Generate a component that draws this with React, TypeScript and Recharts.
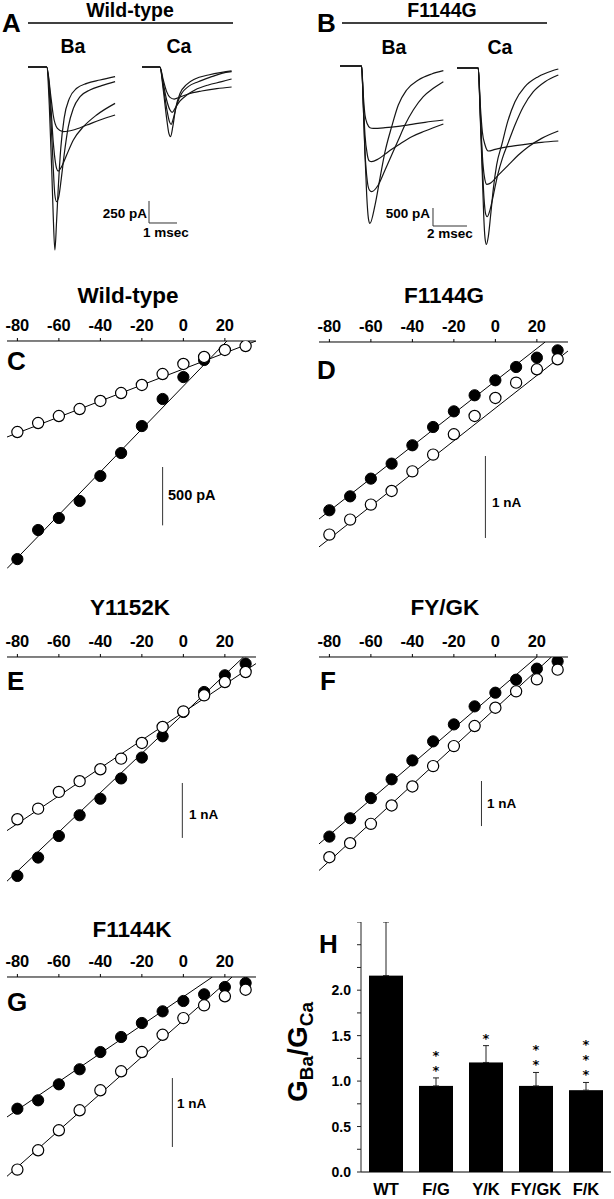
import React from 'react';
import {
  ComposedChart,
  LineChart,
  Line,
  Scatter,
  XAxis,
  YAxis,
  ReferenceLine,
  Bar,
  ErrorBar,
} from 'recharts';

const FONT = '"Liberation Sans", Arial, Helvetica, sans-serif';

// ---------------- Panel A / B : current traces [time ms, current pA] ----------------
const wtBaT1 = [[0, 0], [0.67, 0], [0.81, -318], [0.9, -545], [1.05, -697], [1.26, -735], [1.62, -716], [2.1, -659], [2.57, -602], [3.11, -545]];
const wtBaT2 = [[0, 0], [0.67, 0], [0.79, -318], [0.9, -848], [1.02, -1151], [1.08, -1182], [1.2, -1132], [1.38, -1000], [1.62, -829], [1.98, -678], [2.45, -545], [3.11, -413]];
const wtBaT3 = [[0, 0], [0.67, 0], [0.79, -432], [0.88, -1000], [0.96, -1454], [1.02, -1530], [1.1, -1473], [1.19, -1265], [1.29, -1000], [1.44, -678], [1.62, -470], [1.86, -337], [2.21, -261], [2.63, -212], [3.11, -167]];
const wtBaT4 = [[0, 0], [0.67, 0], [0.76, -432], [0.85, -1189], [0.9, -1681], [0.96, -2079], [1.02, -1757], [1.08, -1378], [1.17, -924], [1.29, -583], [1.48, -356], [1.74, -242], [2.1, -186], [2.57, -148], [3.11, -110]];

const wtCaT1 = [[0, 0], [0.64, 0], [0.76, -148], [0.88, -280], [1.0, -345], [1.15, -364], [1.36, -341], [1.65, -307], [2.13, -273], [2.67, -246], [3.2, -227]];
const wtCaT2 = [[0, 0], [0.64, 0], [0.76, -186], [0.88, -375], [1.0, -489], [1.08, -515], [1.18, -470], [1.36, -386], [1.6, -318], [1.89, -261], [2.37, -204], [2.85, -167], [3.2, -136]];
const wtCaT3 = [[0, 0], [0.64, 0], [0.76, -223], [0.88, -470], [0.98, -621], [1.04, -651], [1.12, -583], [1.24, -432], [1.42, -299], [1.65, -223], [2.01, -167], [2.49, -110], [2.85, -72], [3.2, -53]];
const wtCaT4 = [[0, 0], [0.64, 0], [0.76, -261], [0.88, -583], [0.96, -754], [1.02, -791], [1.1, -678], [1.2, -470], [1.36, -299], [1.6, -197], [1.89, -136], [2.37, -91], [2.85, -61], [3.2, -45]];

const fgBaT1 = [[0, 0], [1.27, 0], [1.37, -806], [1.47, -1363], [1.61, -1613], [1.76, -1715], [1.96, -1733], [2.65, -1715], [3.43, -1678], [4.22, -1622], [5.0, -1567], [6.08, -1502]];
const fgBaT2 = [[0, 0], [1.27, 0], [1.37, -992], [1.47, -1919], [1.61, -2475], [1.73, -2642], [1.86, -2660], [2.25, -2586], [2.84, -2382], [3.43, -2197], [4.22, -1965], [5.0, -1808], [6.08, -1613]];
const fgBaT3 = [[0, 0], [1.27, 0], [1.37, -1085], [1.47, -2382], [1.61, -3217], [1.73, -3448], [1.86, -3495], [2.25, -3309], [2.65, -2892], [3.04, -2475], [3.43, -2058], [3.82, -1641], [4.31, -1224], [4.9, -853], [5.49, -621], [6.08, -436]];
const fgBaT4 = [[0, 0], [1.27, 0], [1.37, -1085], [1.47, -2475], [1.57, -3587], [1.67, -4236], [1.76, -4375], [2.06, -3866], [2.35, -3124], [2.65, -2382], [3.04, -1687], [3.43, -1085], [3.92, -667], [4.61, -389], [5.39, -222], [6.08, -130]];

const fgCaT1 = [[0, 0], [1.25, 0], [1.37, -1029], [1.49, -1771], [1.65, -2141], [1.84, -2308], [2.24, -2262], [3.02, -2188], [4.0, -2123], [4.98, -2067], [5.96, -2030]];
const fgCaT2 = [[0, 0], [1.25, 0], [1.37, -1214], [1.49, -2419], [1.61, -3022], [1.75, -3235], [1.94, -3207], [2.43, -2976], [3.02, -2698], [3.61, -2419], [4.2, -2188], [4.98, -1956], [5.96, -1752]];
const fgCaT3 = [[0, 0], [1.25, 0], [1.37, -1307], [1.49, -2698], [1.59, -3625], [1.69, -4070], [1.78, -4134], [1.94, -3949], [2.14, -3532], [2.39, -2976], [2.67, -2512], [3.02, -2067], [3.41, -1585], [3.9, -1075], [4.49, -658], [5.18, -380], [5.96, -195]];
const fgCaT4 = [[0, 0], [1.25, 0], [1.37, -1400], [1.49, -2976], [1.57, -4088], [1.65, -4737], [1.73, -4904], [1.84, -4691], [1.98, -4088], [2.14, -3347], [2.33, -2698], [2.63, -2141], [2.98, -1492], [3.41, -936], [4.0, -519], [4.78, -241], [5.57, -83], [5.96, -28]];

// scale bars: anchor time, anchor current, size in ms, size in pA
const scaleA = { t: 0.25, i: -1522, dt: 1, di: 250 };
const scaleB = { t: 5.47, i: -3948, dt: 2, di: 500 };

// ---------------- Panels C-G : I-V relations ----------------
const voltages = [-80, -70, -60, -50, -40, -30, -20, -10, 0, 10, 20, 30];
const ivTicks = [-80, -60, -40, -20, 0, 20];

const wtBa = [-1869, -1620, -1517, -1371, -1157, -960, -729, -497, -309, -163];
const wtCa = [-780, -703, -643, -583, -514, -446, -377, -283, -197, -137, -77, -43];
const wtBaFit = [[-85, -1950], [21, 0]];
const wtCaFit = [[-85, -823], [35, 0]];

const fgBa = [-2053, -1883, -1667, -1484, -1260, -1037, -846, -650, -467, -305, -191, -102];
const fgCa = [-2350, -2167, -1984, -1817, -1578, -1374, -1126, -902, -683, -496, -333, -211];
const fgBaFit = [[-85, -2160], [24, 0]];
const fgCaFit = [[-85, -2500], [35, -110]];

const ykBa = [-3985, -3650, -3258, -2880, -2580, -2210, -1830, -1443, -1000, -637, -333, -121];
const ykCa = [-2953, -2760, -2455, -2260, -2043, -1850, -1565, -1274, -990, -698, -455, -273];
const ykBaFit = [[-85, -4080], [29, 0]];
const ykCaFit = [[-85, -3160], [35, -120]];

const fyBa = [-3987, -3580, -3133, -2715, -2296, -1873, -1496, -1096, -793, -504, -259, -96];
const fyCa = [-4444, -4133, -3704, -3296, -2874, -2422, -1978, -1533, -1126, -763, -496, -281];
const fyBaFit = [[-85, -4150], [20, 0]];
const fyCaFit = [[-85, -4740], [27, 0]];

const fkBa = [-1910, -1788, -1556, -1338, -1088, -870, -667, -498, -348, -251, -145, -87];
const fkCa = [-2793, -2513, -2223, -1933, -1643, -1367, -1088, -838, -596, -411, -280, -184];
const fkBaFit = [[-85, -2030], [14, 0]];
const fkCaFit = [[-85, -2890], [23.5, 0]];

// ---------------- Panel H ----------------
const groups = ['WT', 'F/G', 'Y/K', 'FY/GK', 'F/K'];
const ratioMean = [2.16, 0.947, 1.205, 0.947, 0.9];
const ratioErr = [0.59, 0.088, 0.185, 0.148, 0.085];
const stars = ['', '**', '*', '**', '***'];
const hTicks = [0, 0.25, 0.5, 0.75, 1, 1.25, 1.5, 1.75, 2, 2.25, 2.5, 2.75];

// ---------------- helpers ----------------
const toTrace = (arr: number[][]) => arr.map(([t, i]) => ({ t, i }));
const toIV = (vals: number[]) => vals.map((i, k) => ({ v: voltages[k], i }));
const toFit = (arr: number[][]) => arr.map(([v, i]) => ({ v, i }));

const filledDot = (p: any) => (
  <circle cx={p.cx} cy={p.cy} r={5.6} fill="#000" stroke="#000" strokeWidth={1} />
);
const openDot = (p: any) => (
  <circle cx={p.cx} cy={p.cy} r={5.6} fill="#fff" stroke="#000" strokeWidth={1.2} />
);

const ivTick = (p: any) => (
  <text x={p.x} y={p.y} textAnchor="middle" fontFamily={FONT} fontWeight="bold" fontSize={16.5} fill="#000">
    {p.payload.value}
  </text>
);

function TraceChart(props: {
  left: number; top: number; width: number; height: number;
  y0: number; pxPerMs: number; pAperPx: number;
  traces: number[][][]; bar?: { t: number; i: number; dt: number; di: number };
}) {
  const { left, top, width, height, y0, pxPerMs, pAperPx, traces, bar } = props;
  const yTop = (y0 - top) * pAperPx;
  const yBot = (y0 - top - height) * pAperPx;
  return (
    <div style={{ position: 'absolute', left, top }}>
      <LineChart width={width} height={height} margin={{ top: 0, right: 0, bottom: 0, left: 0 }}>
        <XAxis type="number" dataKey="t" domain={[0, width / pxPerMs]} hide allowDataOverflow />
        <YAxis type="number" domain={[yBot, yTop]} hide allowDataOverflow />
        {traces.map((tr, k) => (
          <Line
            key={k}
            data={toTrace(tr)}
            dataKey="i"
            type="monotone"
            stroke="#151515"
            strokeWidth={1.2}
            dot={false}
            activeDot={false}
            isAnimationActive={false}
          />
        ))}
        {bar && (
          <ReferenceLine
            segment={[{ x: bar.t, y: bar.i }, { x: bar.t, y: bar.i - bar.di }]}
            stroke="#333"
            strokeWidth={1}
          />
        )}
        {bar && (
          <ReferenceLine
            segment={[{ x: bar.t, y: bar.i - bar.di }, { x: bar.t + bar.dt, y: bar.i - bar.di }]}
            stroke="#333"
            strokeWidth={1}
          />
        )}
      </LineChart>
    </div>
  );
}

const IV_PAD_L = 16;
const IV_PAD_R = 12;

function IVPanel(props: {
  left: number; axisY: number; pAperPx: number; yMin: number;
  ba: number[]; ca: number[]; baFit: number[][]; caFit: number[][];
  bar: { v: number; i: number; di: number };
}) {
  const { left, axisY, pAperPx, yMin, ba, ca, baFit, caFit, bar } = props;
  const plotH = -yMin / pAperPx;
  const axisH = 30;
  return (
    <div style={{ position: 'absolute', left: left - IV_PAD_L, top: axisY - axisH }}>
      <ComposedChart
        width={249 + IV_PAD_L + IV_PAD_R}
        height={axisH + plotH}
        margin={{ top: 0, right: IV_PAD_R, bottom: 0, left: IV_PAD_L }}
      >
        <XAxis
          type="number"
          dataKey="v"
          orientation="top"
          domain={[-85, 35]}
          ticks={ivTicks}
          interval={0}
          height={axisH}
          allowDataOverflow
          axisLine={{ stroke: '#000', strokeWidth: 1 }}
          tickLine={{ stroke: '#000' }}
          tickSize={3}
          tickMargin={7}
          tick={ivTick}
        />
        <YAxis type="number" dataKey="i" domain={[yMin, 0]} hide allowDataOverflow />
        <ReferenceLine
          segment={[{ x: bar.v, y: bar.i }, { x: bar.v, y: bar.i - bar.di }]}
          stroke="#333"
          strokeWidth={1}
        />
        <Line data={toFit(caFit)} dataKey="i" type="linear" stroke="#000" strokeWidth={1} dot={false} activeDot={false} isAnimationActive={false} />
        <Line data={toFit(baFit)} dataKey="i" type="linear" stroke="#000" strokeWidth={1} dot={false} activeDot={false} isAnimationActive={false} />
        <Scatter data={toIV(ba)} dataKey="i" shape={filledDot} isAnimationActive={false} />
        <Scatter data={toIV(ca)} dataKey="i" shape={openDot} isAnimationActive={false} />
      </ComposedChart>
    </div>
  );
}

const hData = groups.map((g, k) => ({
  g,
  m: ratioMean[k],
  e: [0, ratioErr[k]],
  s: stars[k],
}));

const barShape = (p: any) => {
  const { x, y, width, height, payload } = p;
  const ppu = height / payload.m;
  const errTop = y - payload.e[1] * ppu;
  const n = payload.s.length;
  const cx = x + width / 2;
  return (
    <g>
      <rect x={x} y={y} width={width} height={height} fill="#000" />
      {Array.from({ length: n }).map((_, k) => (
        <text
          key={k}
          x={cx}
          y={errTop - 3 - (n - 1 - k) * 15}
          textAnchor="middle"
          fontFamily='"DejaVu Sans", sans-serif'
          fontWeight="bold"
          fontSize={13}
          fill="#000"
        >
          *
        </text>
      ))}
    </g>
  );
};

const hXTick = (p: any) => (
  <text x={p.x} y={p.y + 15} textAnchor="middle" fontFamily={FONT} fontWeight="bold" fontSize={16.5} fill="#000">
    {p.payload.value}
  </text>
);
const hYTick = (p: any) => {
  const v = p.payload.value;
  const show = Math.abs(v * 2 - Math.round(v * 2)) < 1e-9 && v <= 2;
  if (!show) return <g />;
  return (
    <text x={p.x} y={p.y + 5} textAnchor="end" fontFamily={FONT} fontWeight="bold" fontSize={14} fill="#000">
      {v.toFixed(1)}
    </text>
  );
};

const Txt = (p: { x: number; y: number; size: number; anchor?: string; children: React.ReactNode }) => (
  <text
    x={p.x}
    y={p.y}
    fontSize={p.size}
    textAnchor={(p.anchor || 'start') as any}
    fontFamily={FONT}
    fontWeight="bold"
    fill="#000"
  >
    {p.children}
  </text>
);

export default function App() {
  return (
    <div
      style={{
        position: 'absolute',
        left: 0,
        top: 0,
        width: 614,
        height: 1199,
        background: '#fff',
        overflow: 'hidden',
        fontFamily: FONT,
      }}
    >
      {/* Panel A traces */}
      <TraceChart left={28} top={57} width={90} height={200} y0={67} pxPerMs={28} pAperPx={11.36}
        traces={[wtBaT1, wtBaT2, wtBaT3, wtBaT4]} />
      <TraceChart left={142} top={57} width={100} height={200} y0={67} pxPerMs={28} pAperPx={11.36}
        traces={[wtCaT1, wtCaT2, wtCaT3, wtCaT4]} bar={scaleA} />
      {/* Panel B traces */}
      <TraceChart left={340} top={57} width={130} height={195} y0={66} pxPerMs={17} pAperPx={27.8}
        traces={[fgBaT1, fgBaT2, fgBaT3, fgBaT4]} bar={scaleB} />
      <TraceChart left={457} top={57} width={105} height={195} y0={68} pxPerMs={17} pAperPx={27.8}
        traces={[fgCaT1, fgCaT2, fgCaT3, fgCaT4]} />

      {/* I-V panels */}
      <IVPanel left={7} axisY={341} pAperPx={8.57} yMin={-2000} ba={wtBa} ca={wtCa} baFit={wtBaFit} caFit={wtCaFit}
        bar={{ v: -10, i: -1080, di: 500 }} />
      <IVPanel left={319} axisY={342} pAperPx={12.2} yMin={-2600} ba={fgBa} ca={fgCa} baFit={fgBaFit} caFit={fgCaFit}
        bar={{ v: -4.8, i: -1391, di: 1000 }} />
      <IVPanel left={7} axisY={657} pAperPx={18.2} yMin={-4200} ba={ykBa} ca={ykCa} baFit={ykBaFit} caFit={ykCaFit}
        bar={{ v: -0.5, i: -2293, di: 1000 }} />
      <IVPanel left={319} axisY={657} pAperPx={22.2} yMin={-4900} ba={fyBa} ca={fyCa} baFit={fyBaFit} caFit={fyCaFit}
        bar={{ v: -6.7, i: -2753, di: 1000 }} />
      <IVPanel left={7} axisY={977} pAperPx={14.5} yMin={-3000} ba={fkBa} ca={fkCa} baFit={fkBaFit} caFit={fkCaFit}
        bar={{ v: -5.3, i: -1465, di: 1000 }} />

      {/* Panel H */}
      <div style={{ position: 'absolute', left: 321, top: 922 }}>
        <ComposedChart width={290} height={277} data={hData} margin={{ top: 0, right: 0, bottom: 0, left: 0 }}>
          <XAxis dataKey="g" type="category" height={27} axisLine={{ stroke: '#000' }} tickLine={false} tick={hXTick} interval={0} />
          <YAxis
            type="number"
            domain={[0, 2.75]}
            ticks={hTicks}
            interval={0}
            width={40}
            allowDataOverflow
            axisLine={{ stroke: '#222' }}
            tickLine={{ stroke: '#222' }}
            tickSize={4}
            tickMargin={6}
            tick={hYTick}
          />
          <Bar dataKey="m" barSize={34} fill="#000" shape={barShape} isAnimationActive={false}>
            <ErrorBar dataKey="e" width={3} stroke="#222" strokeWidth={1} direction="y" />
          </Bar>
        </ComposedChart>
      </div>

      {/* Text & decorations */}
      <svg width={614} height={1199} style={{ position: 'absolute', left: 0, top: 0, pointerEvents: 'none' }}>
        <Txt x={2} y={32} size={26}>A</Txt>
        <Txt x={130} y={17} size={19.5} anchor="middle">Wild-type</Txt>
        <line x1={28} y1={23} x2={233} y2={23} stroke="#000" strokeWidth={1.5} />
        <Txt x={73} y={53} size={19.5} anchor="middle">Ba</Txt>
        <Txt x={179} y={53} size={19.5} anchor="middle">Ca</Txt>
        <Txt x={147} y={218} size={13.5} anchor="end">250 pA</Txt>
        <Txt x={166} y={237} size={13.5} anchor="middle">1 msec</Txt>

        <Txt x={317} y={32} size={26}>B</Txt>
        <Txt x={442} y={17} size={19.5} anchor="middle">F1144G</Txt>
        <line x1={342} y1={23} x2={547} y2={23} stroke="#000" strokeWidth={1.5} />
        <Txt x={394} y={54} size={19.5} anchor="middle">Ba</Txt>
        <Txt x={500} y={54} size={19.5} anchor="middle">Ca</Txt>
        <Txt x={430} y={218} size={13.5} anchor="end">500 pA</Txt>
        <Txt x={450} y={238} size={13.5} anchor="middle">2 msec</Txt>

        <Txt x={128} y={303} size={22.5} anchor="middle">Wild-type</Txt>
        <Txt x={444} y={303} size={22.5} anchor="middle">F1144G</Txt>
        <Txt x={130} y={615} size={22.5} anchor="middle">Y1152K</Txt>
        <Txt x={445} y={615} size={22.5} anchor="middle">FY/GK</Txt>
        <Txt x={132} y={937} size={22.5} anchor="middle">F1144K</Txt>

        <Txt x={7} y={370} size={26}>C</Txt>
        <Txt x={317} y={379} size={26}>D</Txt>
        <Txt x={7} y={690} size={26}>E</Txt>
        <Txt x={320} y={690} size={26}>F</Txt>
        <Txt x={7} y={1011} size={26}>G</Txt>
        <Txt x={319} y={953} size={26}>H</Txt>

        <Txt x={168} y={500} size={14.5}>500 pA</Txt>
        <Txt x={492} y={507} size={13.5}>1 nA</Txt>
        <Txt x={189} y={819} size={13.5}>1 nA</Txt>
        <Txt x={487} y={808} size={13.5}>1 nA</Txt>
        <Txt x={177} y={1108} size={13.5}>1 nA</Txt>

        <text transform="translate(307,1052) rotate(-90)" textAnchor="middle" fontFamily={FONT} fontWeight="bold" fontSize={28} fill="#000">
          <tspan>G</tspan>
          <tspan fontSize={19} dy={6}>Ba</tspan>
          <tspan dy={-6}>/G</tspan>
          <tspan fontSize={19} dy={6}>Ca</tspan>
        </text>
      </svg>
    </div>
  );
}
